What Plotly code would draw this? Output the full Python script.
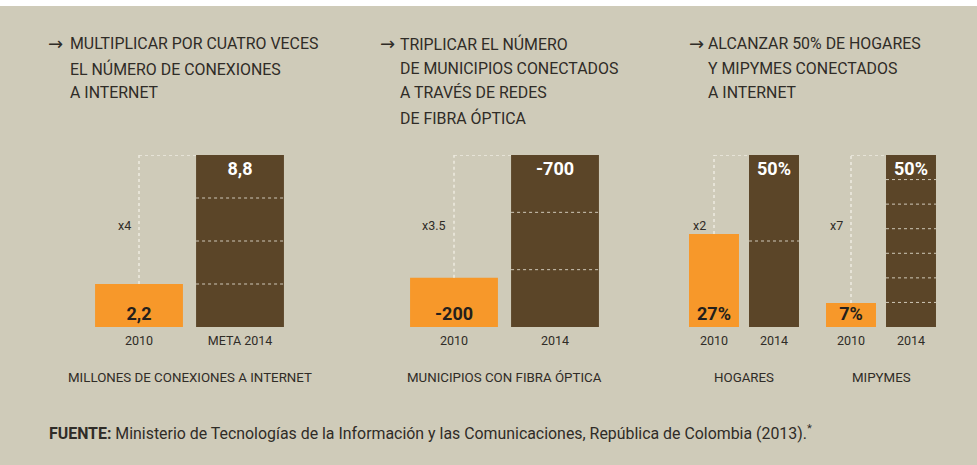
import plotly.graph_objects as go

# ---------------- data ----------------
categories = [["2010", "META 2014"], ["2010", "2014"], ["2010", "2014"], ["2010", "2014"]]
values_2010 = [2.2, 200, 27, 7]
values_2014 = [8.8, 700, 50, 50]
text_2010 = ["2,2", "-200", "27%", "7%"]
text_2014 = ["8,8", "-700", "50%", "50%"]
multipliers = ["x4", "x3.5", "x2", "x7"]
segments = [4, 3, 2, 7]
group_labels = ["MILLONES DE CONEXIONES A INTERNET", "MUNICIPIOS CON FIBRA ÓPTICA", "HOGARES", "MIPYMES"]
titles = [
    ["MULTIPLICAR POR CUATRO VECES", "EL NÚMERO DE CONEXIONES", "A INTERNET"],
    ["TRIPLICAR EL NÚMERO", "DE MUNICIPIOS CONECTADOS", "A TRAVÉS DE REDES", "DE FIBRA ÓPTICA"],
    ["ALCANZAR 50% DE HOGARES", "Y MIPYMES CONECTADOS", "A INTERNET"],
]
footer = "<b>FUENTE:</b> Ministerio de Tecnologías de la Información y las Comunicaciones, República de Colombia (2013).<sup>*</sup>"

# ---------------- style ----------------
W, H = 977, 465
BG = "#CFCBB9"
ORANGE = "#F7982A"
BROWN = "#5B4528"
TXT = "#2F2C27"
FONT = "Roboto"

# pixel layout (left, right) for each panel's x domain
x_dom_px = [(88.5, 290.5), (403.5, 605.5), (684, 804), (821, 941)]
bar_w = [0.87, 0.87, 0.833, 0.833]
y_bottom_px, y_top_px = 327, 155

def fx(px):
    return px / W

def fy(py):
    return (H - py) / H

fig = go.Figure()

for i in range(4):
    ax = "" if i == 0 else str(i + 1)
    xa, ya = "x" + ax, "y" + ax
    fig.add_trace(go.Bar(
        x=[categories[i][0]], y=[values_2010[i]], text=[text_2010[i]],
        marker=dict(color=ORANGE, line=dict(width=0)), width=bar_w[i],
        textposition="inside", insidetextanchor="start", textangle=0,
        textfont=dict(family=FONT, size=18, color="#231F1C", weight="bold"),
        xaxis=xa, yaxis=ya, showlegend=False, hoverinfo="skip", cliponaxis=False,
    ))
    fig.add_trace(go.Bar(
        x=[categories[i][1]], y=[values_2014[i]], text=[text_2014[i]],
        marker=dict(color=BROWN, line=dict(width=0)), width=bar_w[i],
        textposition="inside", insidetextanchor="end", textangle=0,
        textfont=dict(family=FONT, size=18, color="white", weight="bold"),
        xaxis=xa, yaxis=ya, showlegend=False, hoverinfo="skip", cliponaxis=False,
    ))
    fig.update_layout(**{
        ("xaxis" + ax): dict(
            domain=[fx(x_dom_px[i][0]), fx(x_dom_px[i][1])], anchor=ya,
            type="category", categoryorder="array", categoryarray=categories[i],
            range=[-0.5, 1.5], showgrid=False, zeroline=False, showline=False,
            ticks="", ticklabelstandoff=4, fixedrange=True,
            tickfont=dict(family=FONT, size=12.5, color=TXT),
        ),
        ("yaxis" + ax): dict(
            domain=[fy(y_bottom_px), fy(y_top_px)], anchor=xa,
            range=[0, values_2014[i]], showgrid=False, zeroline=False,
            showline=False, showticklabels=False, fixedrange=True,
        ),
    })
    # connector (dotted) from 2010 bar top to level of 2014 bar
    edge = 1 - bar_w[i] / 2
    conn = dict(color="#EEEBE1", width=1.5, dash="3px,3px")
    fig.add_shape(type="line", xref=xa, yref=ya, x0=0, x1=0,
                  y0=values_2010[i], y1=values_2014[i], line=conn, layer="above")
    fig.add_shape(type="line", xref=xa, yref=ya, x0=0, x1=edge,
                  y0=values_2014[i], y1=values_2014[i], line=conn, layer="above")
    # segment dashes inside 2014 bar
    for k in range(1, segments[i]):
        yv = values_2014[i] * k / segments[i]
        fig.add_shape(type="line", xref=xa, yref=ya, x0=1 - bar_w[i] / 2, x1=1 + bar_w[i] / 2,
                      y0=yv, y1=yv, line=dict(color="#CFC8B8", width=1, dash="3px,3px"),
                      layer="above")
    # multiplier label
    fig.add_annotation(xref=xa, yref="paper", x=0, y=fy(225), text=multipliers[i],
                       showarrow=False, xanchor="right", yanchor="middle", xshift=-6,
                       font=dict(family=FONT, size=12.5, color=TXT))
    # group label
    fig.add_annotation(xref=xa + " domain", yref="paper", x=0.5, y=fy(377), text=group_labels[i],
                       showarrow=False, xanchor="center", yanchor="middle",
                       font=dict(family=FONT, size=13.3, color=TXT))

# titles
title_x_px = [(46, 68), (378, 398), (687, 706)]
line_y_px = [44, 68.5, 93, 117.5]
for t, lines in enumerate(titles):
    ax_px, tx_px = title_x_px[t]
    fig.add_annotation(xref="paper", yref="paper", x=fx(ax_px), y=fy(line_y_px[0]), text="→",
                       showarrow=False, xanchor="left", yanchor="middle",
                       font=dict(family="DejaVu Sans", size=18, color=TXT))
    for j, line in enumerate(lines):
        fig.add_annotation(xref="paper", yref="paper", x=fx(tx_px), y=fy(line_y_px[j]), text=line,
                           showarrow=False, xanchor="left", yanchor="middle",
                           font=dict(family=FONT, size=15.9, color=TXT))

# footer
fig.add_annotation(xref="paper", yref="paper", x=fx(47), y=fy(432), text=footer,
                   showarrow=False, xanchor="left", yanchor="middle",
                   font=dict(family=FONT, size=15.9, color=TXT))

# white strip at top
fig.add_shape(type="rect", xref="paper", yref="paper", x0=0, x1=1, y0=fy(6), y1=1,
              fillcolor="white", line=dict(width=0), layer="below")

fig.update_layout(
    width=W, height=H, margin=dict(l=0, r=0, t=0, b=0),
    paper_bgcolor=BG, plot_bgcolor=BG, barmode="overlay",
    uniformtext=dict(minsize=18, mode="show"),
)

fig.write_html("out.html", config={"displayModeBar": False},
               post_script="document.body.style.margin='0';document.body.style.overflow='hidden';")
